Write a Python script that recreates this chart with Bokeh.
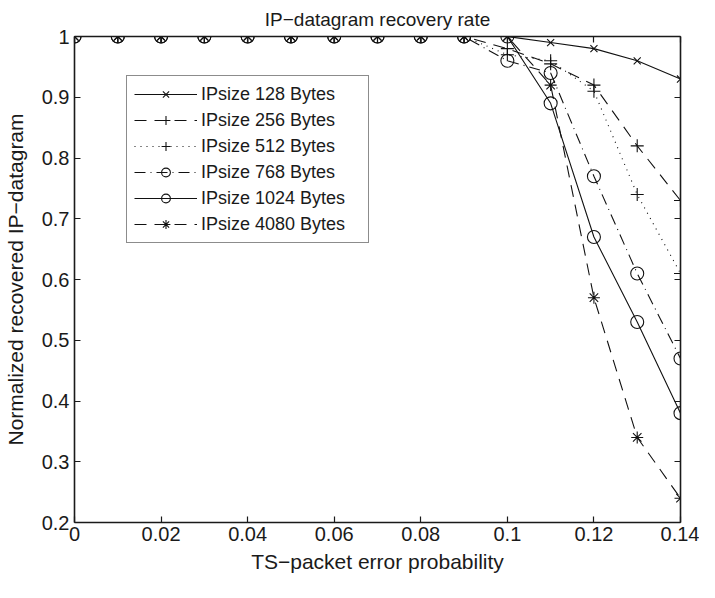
from bokeh.plotting import figure
from bokeh.models import (Legend, LegendItem, LinearAxis, Range1d, FixedTicker, Title,
                          CustomJSTickFormatter)
from bokeh.embed import file_html
from bokeh.resources import INLINE

# ---- data ----
x_vals = [0.0, 0.01, 0.02, 0.03, 0.04, 0.05, 0.06, 0.07, 0.08, 0.09, 0.10, 0.11, 0.12, 0.13, 0.14]
ip128 = [1, 1, 1, 1, 1, 1, 1, 1, 1, 1, 1.0, 0.99, 0.98, 0.96, 0.93]
ip256 = [1, 1, 1, 1, 1, 1, 1, 1, 1, 1, 0.98, 0.955, 0.92, 0.82, 0.73]
ip512 = [1, 1, 1, 1, 1, 1, 1, 1, 1, 1, 0.97, 0.96, 0.91, 0.74, 0.61]
ip768 = [1, 1, 1, 1, 1, 1, 1, 1, 1, 1, 0.96, 0.94, 0.77, 0.61, 0.47]
ip1024 = [1, 1, 1, 1, 1, 1, 1, 1, 1, 1, 1.0, 0.89, 0.67, 0.53, 0.38]
ip4080 = [1, 1, 1, 1, 1, 1, 1, 1, 1, 1, 1.0, 0.92, 0.57, 0.34, 0.24]
labels = ["IPsize 128 Bytes", "IPsize 256 Bytes", "IPsize 512 Bytes",
          "IPsize 768 Bytes", "IPsize 1024 Bytes", "IPsize 4080 Bytes"]
x_ticks = [0, 0.02, 0.04, 0.06, 0.08, 0.1, 0.12, 0.14]
y_ticks = [0.2, 0.3, 0.4, 0.5, 0.6, 0.7, 0.8, 0.9, 1.0]

FONT = "Liberation Sans"
TXT = "#1a1a1a"

p = figure(width=699, height=582, output_backend="svg", toolbar_location=None,
           x_range=Range1d(0, 0.14), y_range=Range1d(0.2, 1.0),
           min_border_left=73, min_border_right=19, min_border_top=33, min_border_bottom=60,
           border_fill_color="white")
p.title = Title(text="IP\u2212datagram recovery rate", align="center",
                text_font=FONT, text_font_size="19px", text_font_style="normal",
                text_color=TXT, standoff=13, offset=0)
p.grid.visible = False
p.outline_line_color = None
p.background_fill_color = "white"

def style_axis(ax, show_labels=True):
    ax.axis_line_color = TXT
    ax.axis_line_width = 1.6
    ax.major_tick_in = 6
    ax.major_tick_out = 0
    ax.minor_tick_line_color = None
    ax.major_tick_line_color = TXT
    ax.major_tick_line_width = 1.2
    ax.major_label_text_font = FONT
    ax.major_label_text_font_size = "20px"
    ax.major_label_text_color = TXT
    ax.axis_label_text_font = FONT
    ax.axis_label_text_font_size = "21px"
    ax.axis_label_text_font_style = "normal"
    ax.axis_label_text_color = TXT
    if not show_labels:
        ax.formatter = CustomJSTickFormatter(code="return ''")
        ax.major_label_standoff = 0
        ax.major_label_text_font_size = "1px"

p.xaxis.ticker = FixedTicker(ticks=x_ticks)
p.yaxis.ticker = FixedTicker(ticks=y_ticks)
p.xaxis.axis_label = "TS\u2212packet error probability"
p.yaxis.axis_label = "Normalized recovered IP\u2212datagram"
p.xaxis.major_label_overrides = {0: "0", 0.1: "0.1"}
p.yaxis.major_label_overrides = {1.0: "1"}
p.xaxis.major_label_standoff = 4
p.yaxis.major_label_standoff = 5
p.xaxis.axis_label_standoff = 6
p.yaxis.axis_label_standoff = 12
style_axis(p.xaxis[0])
style_axis(p.yaxis[0])

top_ax = LinearAxis(ticker=FixedTicker(ticks=x_ticks))
right_ax = LinearAxis(ticker=FixedTicker(ticks=y_ticks))
style_axis(top_ax, False)
style_axis(right_ax, False)
p.add_layout(top_ax, "above")
p.add_layout(right_ax, "right")

C = "#111111"
series = [
    (ip128, None, "x", 10),
    (ip256, "12 8", "cross", 13),
    (ip512, "1 5", "cross", 13),
    (ip768, "11 5 1 5", "circle", 13),
    (ip1024, None, "circle", 13),
    (ip4080, "12 8", "asterisk", 12),
]

items = []
for (vals, dash, marker, sz), lab in zip(series, labels):
    kw = {}
    if dash:
        kw["line_dash"] = dash
    r1 = p.line(x_vals, vals, line_color=C, line_width=1.1, **kw)
    r2 = p.scatter(x_vals, vals, marker=marker, size=sz,
                   line_color=C, fill_color=None, line_width=1.1)
    items.append(LegendItem(label=lab, renderers=[r1, r2]))

legend = Legend(items=items, location=(52, 279),
                label_text_font=FONT, label_text_font_size="18px", label_text_color=TXT,
                border_line_color=TXT, border_line_width=1.5,
                background_fill_alpha=1.0, glyph_width=63, glyph_height=22,
                spacing=4, padding=7, margin=0, label_standoff=4,
                label_height=22, label_width=160)
p.add_layout(legend, "center")

open("out.html", "w").write(file_html(p, INLINE))
